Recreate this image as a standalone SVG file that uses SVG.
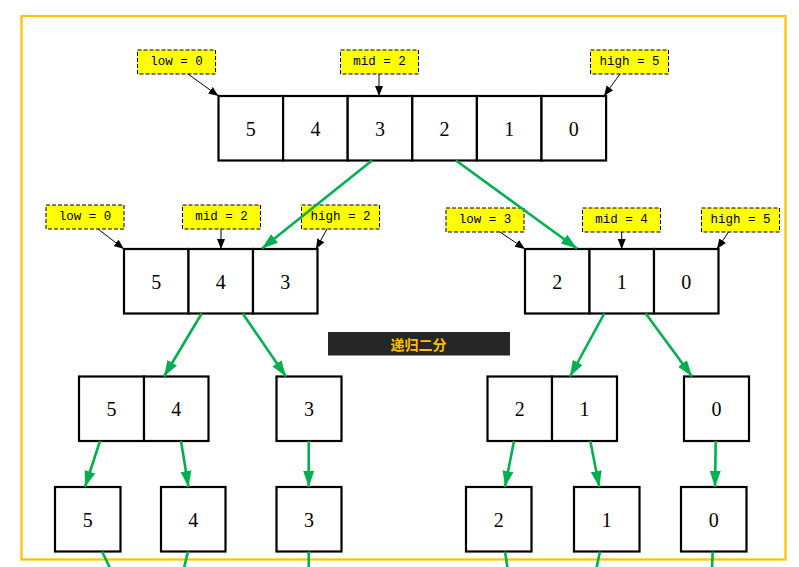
<svg xmlns="http://www.w3.org/2000/svg" width="799" height="567" viewBox="0 0 799 567">
<defs>
<marker id="ab" markerUnits="userSpaceOnUse" markerWidth="10" markerHeight="10" viewBox="0 0 10 10" refX="10" refY="5" orient="auto"><path d="M0,1 L10,5 L0,9 Z" fill="#000"/></marker>
<marker id="ag" markerUnits="userSpaceOnUse" markerWidth="16" markerHeight="12" viewBox="0 0 16 12" refX="16" refY="6" orient="auto"><path d="M0,0.5 L16,6 L0,11.5 Z" fill="#00B050"/></marker>
</defs>
<style>
.cell{fill:#fff;stroke:#000;stroke-width:2.2}
.num{font-family:"Liberation Serif",serif;font-size:20px;fill:#000;text-anchor:middle;dominant-baseline:central}
.lab{fill:#FFFF00;stroke:#000;stroke-width:1;stroke-dasharray:4,2}
.lt{font-family:"Liberation Mono",monospace;font-size:12.5px;fill:#000;text-anchor:middle;dominant-baseline:central}
.bl{stroke:#000;stroke-width:1;fill:none;marker-end:url(#ab)}
.gr{stroke:#00B050;stroke-width:2.6;fill:none;marker-end:url(#ag)}
.gl{stroke:#00B050;stroke-width:2.6;fill:none}
</style>
<rect width="799" height="567" fill="#fff"/>
<rect x="21.5" y="16" width="764" height="543.5" fill="none" stroke="#FFC000" stroke-width="2.2"/>

<g id="root">
<rect class="cell" x="218.5" y="96" width="64.6" height="64.5"/>
<rect class="cell" x="283.1" y="96" width="64.6" height="64.5"/>
<rect class="cell" x="347.7" y="96" width="64.6" height="64.5"/>
<rect class="cell" x="412.3" y="96" width="64.6" height="64.5"/>
<rect class="cell" x="476.9" y="96" width="64.6" height="64.5"/>
<rect class="cell" x="541.5" y="96" width="64.6" height="64.5"/>
<text class="num" x="250.8" y="128.5">5</text>
<text class="num" x="315.4" y="128.5">4</text>
<text class="num" x="380" y="128.5">3</text>
<text class="num" x="444.6" y="128.5">2</text>
<text class="num" x="509.2" y="128.5">1</text>
<text class="num" x="573.8" y="128.5">0</text>
</g>
<g id="root-low"><rect class="lab" x="137.5" y="50" width="78" height="24"/><text class="lt" x="176.5" y="62">low = 0</text></g>
<g id="root-mid"><rect class="lab" x="340.5" y="50" width="78" height="24"/><text class="lt" x="379.5" y="62">mid = 2</text></g>
<g id="root-high"><rect class="lab" x="590.5" y="50" width="78" height="24"/><text class="lt" x="629.5" y="62">high = 5</text></g>

<g id="left">
<rect class="cell" x="124" y="249" width="64.5" height="64.5"/>
<rect class="cell" x="188.5" y="249" width="64.5" height="64.5"/>
<rect class="cell" x="253" y="249" width="64.5" height="64.5"/>
<text class="num" x="156.2" y="281.5">5</text>
<text class="num" x="220.7" y="281.5">4</text>
<text class="num" x="285.2" y="281.5">3</text>
</g>
<g id="left-low"><rect class="lab" x="46" y="205" width="78" height="24"/><text class="lt" x="85" y="217">low = 0</text></g>
<g id="left-mid"><rect class="lab" x="182.5" y="205" width="78" height="24"/><text class="lt" x="221.5" y="217">mid = 2</text></g>
<g id="left-high"><rect class="lab" x="301.5" y="205" width="78" height="24"/><text class="lt" x="340.5" y="217">high = 2</text></g>

<g id="right">
<rect class="cell" x="525" y="249" width="64.5" height="64.5"/>
<rect class="cell" x="589.5" y="249" width="64.5" height="64.5"/>
<rect class="cell" x="654" y="249" width="64.5" height="64.5"/>
<text class="num" x="557.2" y="281.5">2</text>
<text class="num" x="621.7" y="281.5">1</text>
<text class="num" x="686.2" y="281.5">0</text>
</g>
<g id="right-low"><rect class="lab" x="446" y="208" width="78" height="24"/><text class="lt" x="485" y="220">low = 3</text></g>
<g id="right-mid"><rect class="lab" x="582.5" y="208" width="78" height="24"/><text class="lt" x="621.5" y="220">mid = 4</text></g>
<g id="right-high"><rect class="lab" x="701.5" y="208" width="78" height="24"/><text class="lt" x="740.5" y="220">high = 5</text></g>

<g id="title">
<rect x="328" y="332" width="182" height="23.5" fill="#262626"/>
<text x="418.5" y="344" font-family="'Noto Sans CJK SC',sans-serif" font-size="14" font-weight="bold" fill="#FFC000" text-anchor="middle" dominant-baseline="central">递归二分</text>
</g>

<g id="l54">
<rect class="cell" x="79" y="376.5" width="65" height="64.5"/>
<rect class="cell" x="144" y="376.5" width="64.5" height="64.5"/>
<text class="num" x="111.5" y="409">5</text>
<text class="num" x="176.3" y="409">4</text>
</g>
<g id="l3"><rect class="cell" x="276.5" y="376.5" width="65" height="64.5"/><text class="num" x="309" y="409">3</text></g>
<g id="r21">
<rect class="cell" x="487.5" y="376.5" width="64.5" height="64.5"/>
<rect class="cell" x="552" y="376.5" width="65" height="64.5"/>
<text class="num" x="519.8" y="409">2</text>
<text class="num" x="584.5" y="409">1</text>
</g>
<g id="r0"><rect class="cell" x="684" y="376.5" width="65" height="64.5"/><text class="num" x="716.5" y="409">0</text></g>

<g id="leaf5"><rect class="cell" x="55" y="487" width="65.5" height="64.5"/><text class="num" x="87.8" y="519.5">5</text></g>
<g id="leaf4"><rect class="cell" x="161" y="487" width="64.5" height="64.5"/><text class="num" x="193.3" y="519.5">4</text></g>
<g id="leaf3"><rect class="cell" x="276.5" y="487" width="65" height="64.5"/><text class="num" x="309" y="519.5">3</text></g>
<g id="leaf2"><rect class="cell" x="466" y="487" width="65.5" height="64.5"/><text class="num" x="498.8" y="519.5">2</text></g>
<g id="leaf1"><rect class="cell" x="574" y="487" width="65.5" height="64.5"/><text class="num" x="606.8" y="519.5">1</text></g>
<g id="leaf0"><rect class="cell" x="681" y="487" width="65.5" height="64.5"/><text class="num" x="713.8" y="519.5">0</text></g>

<g id="connectors">
<line class="bl" x1="188" y1="74" x2="218.5" y2="96"/>
<line class="bl" x1="379" y1="74" x2="379" y2="96"/>
<line class="bl" x1="620" y1="74" x2="604" y2="96"/>
<line class="bl" x1="98" y1="229" x2="124" y2="249"/>
<line class="bl" x1="221" y1="229" x2="221" y2="249"/>
<line class="bl" x1="327" y1="229" x2="316" y2="249"/>
<line class="bl" x1="500" y1="232" x2="525" y2="249"/>
<line class="bl" x1="621.7" y1="232" x2="621.7" y2="249"/>
<line class="bl" x1="728.5" y1="232" x2="717" y2="249"/>

<line class="gr" x1="372" y1="160.5" x2="262" y2="248.5"/>
<line class="gr" x1="456" y1="160.5" x2="577" y2="248.5"/>
<line class="gr" x1="201.7" y1="313.5" x2="164" y2="376.5"/>
<line class="gr" x1="242.7" y1="313.5" x2="286" y2="376.5"/>
<line class="gr" x1="604.3" y1="313.5" x2="570" y2="376.5"/>
<line class="gr" x1="645.7" y1="313.5" x2="692" y2="376.5"/>
<line class="gr" x1="100" y1="441" x2="85" y2="487"/>
<line class="gr" x1="181" y1="441" x2="188.5" y2="487"/>
<line class="gr" x1="308.7" y1="441" x2="308.7" y2="487"/>
<line class="gr" x1="514" y1="441" x2="505" y2="487"/>
<line class="gr" x1="590.3" y1="441" x2="599.3" y2="487"/>
<line class="gr" x1="715.7" y1="441" x2="715" y2="487"/>

<line class="gl" x1="102" y1="551.5" x2="110" y2="568"/>
<line class="gl" x1="188" y1="551.5" x2="184" y2="568"/>
<line class="gl" x1="308.7" y1="551.5" x2="308.7" y2="568"/>
<line class="gl" x1="505" y1="551.5" x2="507.5" y2="568"/>
<line class="gl" x1="600" y1="551.5" x2="596.5" y2="568"/>
<line class="gl" x1="712.7" y1="551.5" x2="712" y2="568"/>
</g>
</svg>
